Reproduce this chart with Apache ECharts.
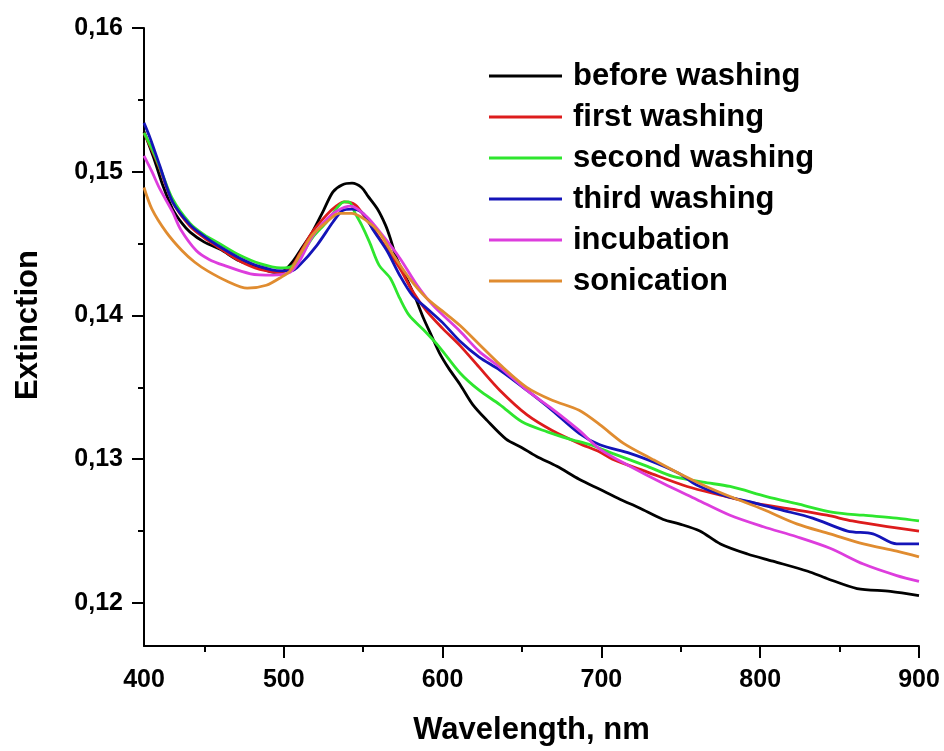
<!DOCTYPE html>
<html>
<head>
<meta charset="utf-8">
<title>Extinction spectra</title>
<script src="https://cdn.jsdelivr.net/npm/echarts@6/dist/echarts.min.js"></script>
<style>
  html, body { margin: 0; padding: 0; background: #fff; }
  #mainChart { width: 944px; height: 751px; }
</style>
</head>
<body>
<div id="mainChart"></div>
<script>
// [wavelength nm, extinction]
var beforeWashing = [[412,0.1528],[418,0.1510],[424,0.1490],[430,0.1474],[436,0.1464],[441,0.1458],[450,0.1451],[460,0.1446],[472,0.1438],[485,0.1433],[494,0.1430],[500,0.1431],[506,0.1438],[512,0.1448],[518,0.1458],[525,0.1473],[531,0.1486],[537,0.1491],[543,0.1492],[549,0.1489],[553,0.1483],[559,0.1474],[564,0.1463],[567,0.1454],[571,0.1440],[578,0.1424],[583,0.1412],[588,0.1398],[593,0.1386],[598,0.1374],[604,0.1363],[611,0.1352],[619,0.1338],[628,0.1327],[640,0.1314],[650,0.1308],[659,0.1302],[672,0.1295],[686,0.1286],[699,0.1279],[712,0.1272],[724,0.1266],[739,0.1258],[749,0.1255],[762,0.1250],[775,0.1241],[792,0.1234],[808,0.1229],[830,0.1222],[842,0.1217],[861,0.1210],[882,0.1208],[900,0.1205]];
var firstWashing = [[412,0.1527],[417,0.1515],[422,0.1502],[430,0.1479],[441,0.1462],[450,0.1454],[458,0.1448],[472,0.1438],[485,0.1432],[498,0.1430],[505,0.1434],[510,0.1443],[518,0.1458],[527,0.1470],[533,0.1476],[538,0.1479],[545,0.1477],[552,0.1467],[562,0.1451],[573,0.1433],[581,0.1417],[590,0.1403],[600,0.1391],[611,0.1379],[623,0.1364],[636,0.1348],[653,0.1331],[669,0.1320],[686,0.1311],[699,0.1305],[707,0.1300],[729,0.1291],[754,0.1281],[775,0.1275],[798,0.1269],[821,0.1265],[842,0.1261],[858,0.1257],[880,0.1253],[900,0.1250]];
var secondWashing = [[412,0.1527],[417,0.1516],[422,0.1503],[430,0.1481],[441,0.1464],[450,0.1456],[458,0.1451],[472,0.1442],[485,0.1436],[498,0.1433],[505,0.1434],[510,0.1440],[518,0.1454],[527,0.1465],[533,0.1474],[538,0.1479],[541,0.1479],[545,0.1471],[549,0.1463],[554,0.1451],[560,0.1435],[567,0.1426],[573,0.1412],[579,0.1400],[588,0.1390],[598,0.1378],[611,0.1360],[623,0.1348],[636,0.1338],[650,0.1326],[666,0.1319],[680,0.1314],[693,0.1310],[707,0.1304],[729,0.1295],[745,0.1288],[764,0.1284],[781,0.1281],[804,0.1274],[823,0.1269],[846,0.1263],[865,0.1261],[886,0.1259],[900,0.1257]];
var thirdWashing = [[412,0.1534],[416,0.1523],[422,0.1504],[430,0.1479],[441,0.1463],[450,0.1455],[458,0.1449],[472,0.1440],[485,0.1434],[498,0.1431],[505,0.1431],[510,0.1435],[521,0.1449],[531,0.1465],[537,0.1473],[543,0.1474],[550,0.1471],[556,0.1460],[565,0.1445],[573,0.1428],[581,0.1414],[590,0.1405],[600,0.1395],[611,0.1382],[623,0.1371],[636,0.1362],[653,0.1348],[669,0.1334],[686,0.1318],[699,0.1310],[718,0.1304],[735,0.1297],[749,0.1290],[760,0.1282],[779,0.1274],[795,0.1270],[812,0.1265],[833,0.1259],[855,0.1250],[871,0.1248],[886,0.1241],[900,0.1241]];
var incubation = [[412,0.1511],[417,0.1500],[422,0.1488],[430,0.1472],[435,0.1460],[445,0.1445],[453,0.1439],[462,0.1435],[479,0.1429],[493,0.1428],[504,0.1430],[510,0.1438],[518,0.1455],[527,0.1467],[534,0.1473],[542,0.1476],[552,0.1469],[562,0.1456],[573,0.1440],[584,0.1421],[594,0.1407],[611,0.1389],[623,0.1375],[636,0.1364],[653,0.1348],[669,0.1335],[686,0.1320],[699,0.1307],[718,0.1295],[739,0.1283],[760,0.1272],[781,0.1261],[802,0.1253],[823,0.1246],[844,0.1238],[865,0.1227],[886,0.1219],[900,0.1215]];
var sonication = [[412,0.1489],[417,0.1474],[426,0.1458],[436,0.1445],[444,0.1437],[452,0.1431],[464,0.1424],[477,0.1419],[489,0.1421],[499,0.1427],[504,0.1431],[510,0.1442],[518,0.1456],[527,0.1465],[535,0.1471],[543,0.1471],[552,0.1466],[560,0.1458],[569,0.1442],[579,0.1426],[590,0.1412],[600,0.1403],[611,0.1393],[623,0.1380],[636,0.1366],[653,0.1350],[669,0.1341],[686,0.1334],[699,0.1324],[714,0.1311],[732,0.1300],[749,0.1290],[766,0.1281],[781,0.1274],[802,0.1265],[823,0.1255],[844,0.1248],[865,0.1241],[886,0.1236],[900,0.1232]];

var seriesNames = ['before washing', 'first washing', 'second washing', 'third washing', 'incubation', 'sonication'];
var seriesColors = ['#000000', '#dd1c1c', '#2ee62e', '#1414b8', '#dd3ddd', '#e08c30'];

// axis ticks / labels (left end of the original axis sits at ~412 nm but is labelled 400)
var xStart = 412;
var xLabelValues = [412, 500, 600, 700, 800, 900];
var xLabelTexts = ['400', '500', '600', '700', '800', '900'];
var xMajorTicks = [500, 600, 700, 800, 900];
var xMinorTicks = [450, 550, 650, 750, 850];
var yMajorTicks = [0.12, 0.13, 0.14, 0.15, 0.16];
var yMinorTicks = [0.125, 0.135, 0.145, 0.155];

var FONT = "'Liberation Sans', Arial, sans-serif";

var chart = echarts.init(document.getElementById('mainChart'), null, { renderer: 'canvas' });

var dataSets = [beforeWashing, firstWashing, secondWashing, thirdWashing, incubation, sonication];
var series = dataSets.map(function (d, i) {
    return {
        name: seriesNames[i],
        type: 'line',
        data: d,
        smooth: 0.3,
        showSymbol: false,
        color: seriesColors[i],
        lineStyle: { color: seriesColors[i], width: 2.8 },
        emphasis: { disabled: true }
    };
});

var option = {
    animation: false,
    backgroundColor: '#fff',
    grid: { left: 144, right: 25, top: 28, bottom: 101 },
    legend: {
        orient: 'vertical',
        left: 484,
        top: 53,
        icon: 'rect',
        itemWidth: 73,
        itemHeight: 3,
        itemGap: 5,
        data: seriesNames,
        textStyle: { fontFamily: FONT, fontWeight: 'bold', fontSize: 31, color: '#000', lineHeight: 36, padding: [0, 0, 0, 6] }
    },
    xAxis: [{
        type: 'value',
        min: xStart,
        max: 900,
        name: 'Wavelength, nm',
        nameLocation: 'middle',
        nameGap: 69,
        nameTextStyle: { fontFamily: FONT, fontWeight: 'bold', fontSize: 31, color: '#000' },
        axisLine: { lineStyle: { color: '#000', width: 2 } },
        axisTick: { customValues: xMajorTicks, length: 12, lineStyle: { color: '#000', width: 2 } },
        axisLabel: {
            customValues: xLabelValues,
            margin: 22,
            fontFamily: FONT, fontWeight: 'bold', fontSize: 25, color: '#000',
            formatter: function (v) { return xLabelTexts[xLabelValues.indexOf(v)]; }
        },
        splitLine: { show: false }
    }, {
        type: 'value',
        position: 'bottom',
        min: xStart,
        max: 900,
        axisLine: { show: false },
        axisTick: { customValues: xMinorTicks, length: 6, lineStyle: { color: '#000', width: 2 } },
        axisLabel: { show: false },
        splitLine: { show: false }
    }],
    yAxis: [{
        type: 'value',
        min: 0.117,
        max: 0.16,
        name: 'Extinction',
        nameLocation: 'middle',
        nameGap: 100,
        nameTextStyle: { fontFamily: FONT, fontWeight: 'bold', fontSize: 31, color: '#000', padding: [0, 0, 0, 24] },
        axisLine: { show: true, lineStyle: { color: '#000', width: 2 } },
        axisTick: { show: true, customValues: yMajorTicks, length: 12, lineStyle: { color: '#000', width: 2 } },
        axisLabel: {
            customValues: yMajorTicks,
            margin: 21,
            fontFamily: FONT, fontWeight: 'bold', fontSize: 25, color: '#000',
            formatter: function (v) { return v.toFixed(2).replace('.', ','); }
        },
        splitLine: { show: false }
    }, {
        type: 'value',
        position: 'left',
        min: 0.117,
        max: 0.16,
        axisLine: { show: false },
        axisTick: { show: true, customValues: yMinorTicks, length: 6, lineStyle: { color: '#000', width: 2 } },
        axisLabel: { show: false },
        splitLine: { show: false }
    }],
    series: series
};

chart.setOption(option);
</script>
</body>
</html>
